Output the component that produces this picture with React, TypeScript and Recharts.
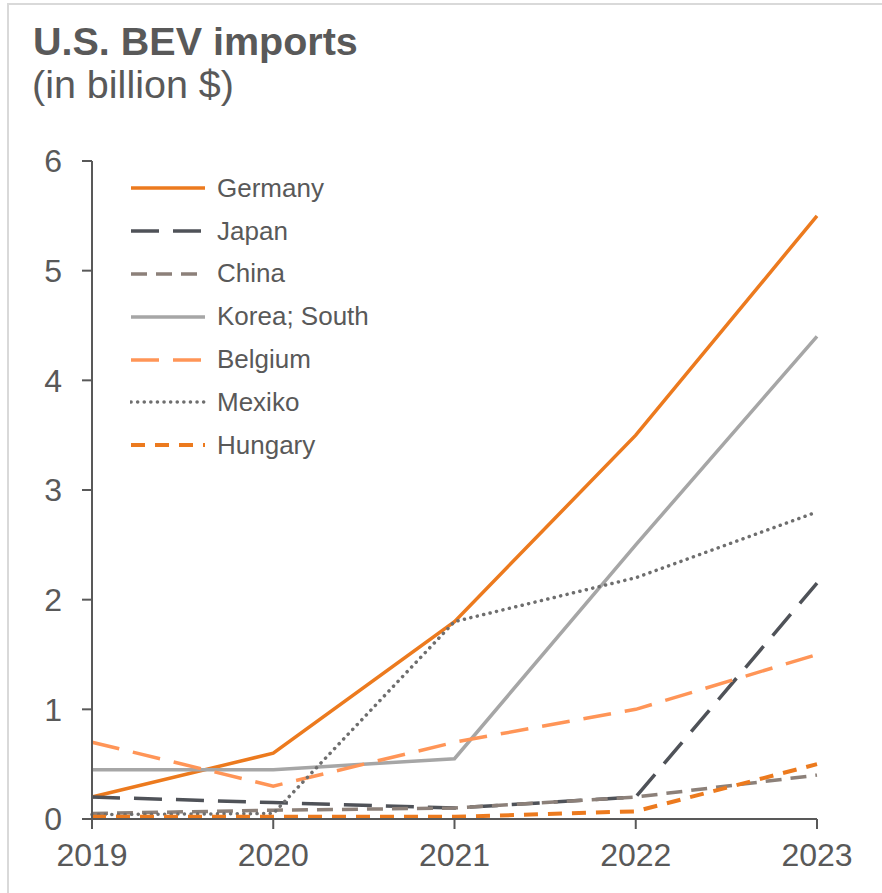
import React from 'react';
import { LineChart, Line, XAxis, YAxis } from 'recharts';

const years = ['2019', '2020', '2021', '2022', '2023'];
const yTicks = [0, 1, 2, 3, 4, 5, 6];

const germany = [0.2, 0.6, 1.8, 3.5, 5.5];
const japan = [0.2, 0.15, 0.1, 0.2, 2.15];
const china = [0.05, 0.08, 0.1, 0.2, 0.4];
const korea = [0.45, 0.45, 0.55, 2.5, 4.4];
const belgium = [0.7, 0.3, 0.7, 1.0, 1.5];
const mexiko = [0.04, 0.05, 1.8, 2.2, 2.8];
const hungary = [0.02, 0.02, 0.02, 0.07, 0.5];

const TEXT = '#595959';
const FONT = '"Liberation Sans", Arial, sans-serif';

const series = [
  { key: 'Germany', values: germany, color: '#EC7A1E', dash: undefined, width: 3.5, cap: 'butt' },
  { key: 'Japan', values: japan, color: '#4F5258', dash: '28 14', width: 3.5, cap: 'butt' },
  { key: 'China', values: china, color: '#8C8079', dash: '16 9', width: 3.5, cap: 'butt' },
  { key: 'Korea; South', values: korea, color: '#A6A6A6', dash: undefined, width: 3.5, cap: 'butt' },
  { key: 'Belgium', values: belgium, color: '#FF9557', dash: '28 14', width: 3.5, cap: 'butt' },
  { key: 'Mexiko', values: mexiko, color: '#6E6E6E', dash: '0.1 6.5', width: 3.5, cap: 'round' },
  { key: 'Hungary', values: hungary, color: '#EC7A1E', dash: '14 10', width: 4, cap: 'butt' },
];

const data = years.map((year, i) => {
  const row: any = { year };
  series.forEach(s => {
    row[s.key] = s.values[i];
  });
  return row;
});

const Legend = () => (
  <div style={{ position: 'absolute', left: 130, top: 167 }}>
    {series.map(s => (
      <div key={s.key} style={{ display: 'flex', alignItems: 'center', height: 42.8 }}>
        <svg width={76} height={10} style={{ marginRight: 11 }}>
          <line
            x1={1}
            x2={75}
            y1={5}
            y2={5}
            stroke={s.color}
            strokeWidth={s.width}
            strokeDasharray={s.dash}
            strokeLinecap={s.cap as any}
          />
        </svg>
        <span style={{ fontFamily: FONT, fontSize: 26, color: TEXT }}>{s.key}</span>
      </div>
    ))}
  </div>
);

export default function App() {
  return (
    <div
      style={{
        position: 'absolute',
        left: 0,
        top: 0,
        width: 882,
        height: 893,
        background: '#fff',
        overflow: 'hidden',
      }}
    >
      <div
        style={{
          position: 'absolute',
          left: 7,
          top: 3,
          width: 900,
          height: 920,
          borderLeft: '2px solid #D9D9D9',
          borderTop: '2px solid #D9D9D9',
        }}
      />
      <div
        style={{
          position: 'absolute',
          left: 33,
          top: 22,
          fontFamily: FONT,
          fontSize: 39.5,
          fontWeight: 'bold',
          color: TEXT,
          lineHeight: '39px',
          whiteSpace: 'nowrap',
        }}
      >
        U.S. BEV imports
      </div>
      <div
        style={{
          position: 'absolute',
          left: 32,
          top: 65,
          fontFamily: FONT,
          fontSize: 39.5,
          color: TEXT,
          lineHeight: '39px',
          whiteSpace: 'nowrap',
        }}
      >
        (in billion $)
      </div>
      <div style={{ position: 'absolute', left: 0, top: 0 }}>
        <LineChart width={882} height={893} data={data} margin={{ top: 161, right: 65, bottom: 14, left: 0 }}>
          <XAxis
            dataKey="year"
            height={60}
            stroke={TEXT}
            strokeWidth={2}
            tickSize={10}
            tickMargin={14}
            tick={{ fill: TEXT, fontSize: 32, fontFamily: FONT }}
            tickLine={{ stroke: TEXT, strokeWidth: 2 }}
            interval={0}
          />
          <YAxis
            type="number"
            domain={[0, 6]}
            ticks={yTicks}
            width={92}
            stroke={TEXT}
            strokeWidth={2}
            tickSize={10}
            tickMargin={20}
            tick={{ fill: TEXT, fontSize: 32, fontFamily: FONT }}
            tickLine={{ stroke: TEXT, strokeWidth: 2 }}
            interval={0}
          />
          {series.map(s => (
            <Line
              key={s.key}
              dataKey={s.key}
              type="linear"
              stroke={s.color}
              strokeWidth={s.width}
              strokeDasharray={s.dash}
              strokeLinecap={s.cap as any}
              dot={false}
              activeDot={false}
              isAnimationActive={false}
            />
          ))}
        </LineChart>
      </div>
      <Legend />
    </div>
  );
}
